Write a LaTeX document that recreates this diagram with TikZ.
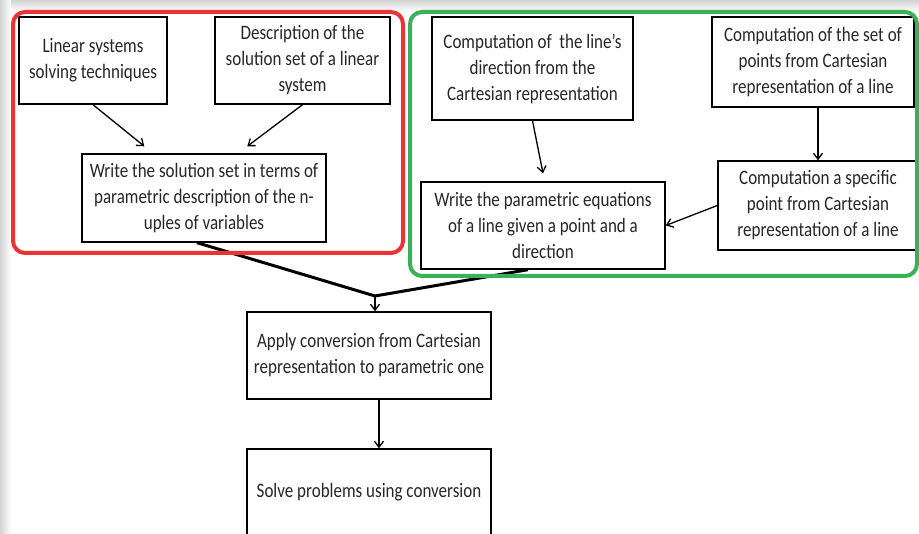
\documentclass[tikz,border=0pt]{standalone}
\usepackage{fontspec}
\setmainfont{Carlito}[FakeStretch=0.83]
\usepackage{xcolor}
\usetikzlibrary{arrows.meta}
\definecolor{framered}{RGB}{236,50,52}
\definecolor{framegreen}{RGB}{58,176,88}
\definecolor{textgray}{RGB}{38,38,38}

\begin{document}
\begin{tikzpicture}
  [x=1pt,y=-1pt,
   every node/.style={draw,rectangle,line width=1.4pt,align=center,inner sep=2pt,
     text=textgray,font=\fontsize{20.5}{26}\selectfont},
   link/.style={line width=1.3pt,-{Straight Barb[length=6pt,width=9pt]}},
   merge/.style={line width=3pt}]
  \useasboundingbox (0,0) rectangle (919,534);
  \clip (0,0) rectangle (919,534);
  \shade[top color=gray!35,bottom color=white] (0,0) rectangle (919,12);
  \shade[left color=gray!35,right color=white] (0,0) rectangle (11,534);

  \node[minimum width=148,minimum height=87] (a) at (93,60.5) {Linear systems\\solving techniques};
  \node[minimum width=175,minimum height=87] (b) at (302.5,60.5) {Description of the\\solution set of a linear\\system};
  \node[minimum width=244,minimum height=88] (c) at (204,198) {Write the solution set in terms of\\parametric description of the n-\\uples of variables};
  \node[minimum width=201,minimum height=103] (d) at (532.5,68.5) {Computation of\ \ the line’s\\direction from the\\Cartesian representation};
  \node[minimum width=202,minimum height=90] (e) at (813,62) {Computation of the set of\\points from Cartesian\\representation of a line};
  \node[minimum width=200,minimum height=89] (f) at (818,205.5) {Computation a specific\\point from Cartesian\\representation of a line};
  \node[minimum width=244,minimum height=87] (g) at (543,225.5) {Write the parametric equations\\of a line given a point and a\\direction};
  \node[minimum width=244,minimum height=87] (h) at (369,355.5) {Apply conversion from Cartesian\\representation to parametric one};
  \node[minimum width=244,minimum height=87] (i) at (369,492.5) {Solve problems using conversion};
  \coordinate (m) at (375,296);

  \draw[link] (a.south) -- ([xshift=63pt,yshift=7pt]c.north west);
  \draw[link] (b.south) -- ([xshift=166pt,yshift=7pt]c.north west);
  \draw[link] (d.south) -- ([yshift=8pt]g.north);
  \draw[link] ([xshift=5pt]e.south) -- (f.north);
  \draw[link] (f.west) -- (g.east);
  \draw[merge] ([xshift=-7pt]c.south) -- (m);
  \draw[merge] ([xshift=-15pt]g.south) -- (m);
  \draw[link] (m) -- ([xshift=6pt]h.north);
  \draw[link] ([xshift=10pt]h.south) -- ([xshift=10pt]i.north);

  \draw[framered,line width=4pt,rounded corners=12pt] (13,12) rectangle (403,253);
  \draw[framegreen,line width=4pt,rounded corners=12pt] (410,12) rectangle (917,276);
\end{tikzpicture}
\end{document}
